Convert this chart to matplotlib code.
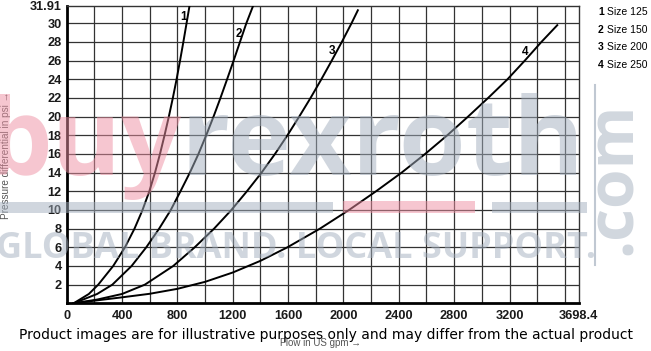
import matplotlib
matplotlib.use("Agg")
import matplotlib.pyplot as plt
from matplotlib.patches import Rectangle
from matplotlib.lines import Line2D

# Données (débit en US gpm, pression en psi)
flow_1 = [50, 160, 228, 336, 421, 490, 548, 597, 638, 674, 707, 738, 767, 794, 819, 843, 866, 888]
psi_1 = [0, 1, 2, 4, 6, 8, 10, 12, 14, 16, 18, 20, 22, 24, 26, 28, 30, 31.91]

flow_2 = [50, 220, 330, 469, 575, 668, 752, 822, 890, 952, 1008, 1061, 1111, 1159, 1206, 1252, 1298, 1348]
psi_2 = [0, 1, 2, 4, 6, 8, 10, 12, 14, 16, 18, 20, 22, 24, 26, 28, 30, 31.91]

flow_3 = [50, 220, 400, 565, 770, 925, 1065, 1190, 1302, 1408, 1505, 1595, 1680, 1762, 1840, 1915, 1988, 2058, 2104]
psi_3 = [0, 0.4, 1, 2, 4, 6, 8, 10, 12, 14, 16, 18, 20, 22, 24, 26, 28, 30, 31.4]

flow_4 = [50, 200, 400, 600, 800, 1000, 1200, 1400, 1595, 1830, 2040, 2235, 2420, 2590,
          2750, 2900, 3045, 3185, 3310, 3430, 3545]
psi_4 = [0, 0.28, 0.64, 1.02, 1.55, 2.3, 3.3, 4.55, 6, 8, 10, 12, 14, 16,
         18, 20, 22, 24, 26, 28, 29.8]

sizes = ["125", "150", "200", "250"]
curve_names = ["1", "2", "3", "4"]
label_pos = [(841, 30.7), (1245, 28.9), (1919, 27.0), (3314, 26.9)]

x_ticks = [0, 400, 800, 1200, 1600, 2000, 2400, 2800, 3200, 3698.4]
x_ticklabels = ["0", "400", "800", "1200", "1600", "2000", "2400", "2800", "3200", "3698.4"]
y_ticks = [2, 4, 6, 8, 10, 12, 14, 16, 18, 20, 22, 24, 26, 28, 30, 31.91]
y_ticklabels = ["2", "4", "6", "8", "10", "12", "14", "16", "18", "20", "22", "24", "26", "28", "30", "31.91"]
x_max = 3698.4
y_max = 31.91

W, H = 651, 351
sans = "Liberation Sans"

fig = plt.figure(figsize=(W / 100, H / 100), dpi=100)
ax = fig.add_axes([66.7 / W, (H - 303.3) / H, 511.8 / W, 297.8 / H])

# grille
for gx in range(200, 3700, 200):
    ax.axvline(gx, color="#333333", lw=0.9, zorder=1)
for gy in range(2, 31, 2):
    ax.axhline(gy, color="#333333", lw=0.9, zorder=1)

for fl, ps in [(flow_1, psi_1), (flow_2, psi_2), (flow_3, psi_3), (flow_4, psi_4)]:
    ax.plot(fl, ps, color="black", lw=1.4, zorder=3, solid_joinstyle="round")

for name, (lx, ly) in zip(curve_names, label_pos):
    ax.text(lx, ly, name, fontsize=8.5, fontweight="bold", family=sans,
            ha="center", va="center", zorder=4)

ax.set_xlim(0, x_max)
ax.set_ylim(0, y_max)
ax.set_xticks(x_ticks)
ax.set_xticklabels(x_ticklabels)
ax.set_yticks(y_ticks)
ax.set_yticklabels(y_ticklabels)
ax.tick_params(axis="x", length=0, pad=5)
ax.tick_params(axis="y", length=0, pad=3.5)
for lab in ax.get_xticklabels() + ax.get_yticklabels():
    lab.set_family(sans)
    lab.set_fontweight("bold")
    lab.set_fontsize(9.2)
    lab.set_color("#1a1a1a")
ax.spines["left"].set_linewidth(2)
ax.spines["bottom"].set_linewidth(2)
ax.spines["top"].set_linewidth(1)
ax.spines["right"].set_linewidth(1)
ax.spines["top"].set_color("#333333")
ax.spines["right"].set_color("#333333")

# titres des axes
fig.text(6 / W, 1 - 155 / H, "Pressure differential in psi \u2192", rotation=90,
         fontsize=7.2, family=sans, color="#555555", ha="center", va="center")
fig.text(321 / W, 1 - 343 / H, "Flow in US gpm \u2192", fontsize=7, family=sans,
         color="#555555", ha="center", va="center")

# légende
for i, (name, s) in enumerate(zip(curve_names, sizes)):
    yy = 1 - (12 + 17.7 * i) / H
    fig.text(598 / W, yy, name, fontsize=7.5, family=sans, fontweight="bold",
             ha="left", va="center")
    fig.text(607 / W, yy, "Size " + s, fontsize=7.5, family=sans,
             ha="left", va="center")

# filigrane
def px_rect(x0, y0, x1, y1, color):
    fig.add_artist(Rectangle((x0 / W, 1 - y1 / H), (x1 - x0) / W, (y1 - y0) / H,
                             transform=fig.transFigure, color=color, alpha=0.5,
                             lw=0, zorder=10))

grey_wm = "#a3afbe"
pink_wm = "#ee8fa2"
px_rect(0, 202, 333, 213, grey_wm)
px_rect(343, 201, 475, 213, pink_wm)
px_rect(492, 202, 587, 213, grey_wm)
fig.add_artist(Line2D([595 / W, 595 / W], [1 - 85 / H, 1 - 265 / H], color="#c0c8d2",
                      lw=1.5, transform=fig.transFigure, zorder=10))
renderer = fig.canvas.get_renderer()
t_buy = fig.text(-14 / W, 1 - 175 / H, "buy", fontsize=76, fontweight="bold", family="Open Sans",
                 color=pink_wm, alpha=0.5, ha="left", va="baseline", zorder=10)
bb = t_buy.get_window_extent(renderer)
fig.text((bb.x1 - 2) / W, 1 - 175 / H, "rexroth", fontsize=78, fontweight="bold", family="Open Sans",
         color=grey_wm, alpha=0.5, ha="left", va="baseline", zorder=10)
fig.text(647 / W, 1 - 178 / H, ".com", fontsize=46, fontweight="bold", family="Open Sans",
         color=grey_wm, alpha=0.5, rotation=90, ha="right", va="center", zorder=10)
fig.text(-4 / W, 1 - 258 / H, "GLOBAL BRAND. LOCAL SUPPORT.", fontsize=26, fontweight="bold",
         family="Open Sans", color=grey_wm, alpha=0.5, ha="left", va="baseline", zorder=10)

fig.text(326 / W, 1 - 335 / H,
         "Product images are for illustrative purposes only and may differ from the actual product",
         fontsize=10, family="DejaVu Sans", color="black", ha="center", va="center", zorder=11)

fig.savefig("out.png", dpi=100)
